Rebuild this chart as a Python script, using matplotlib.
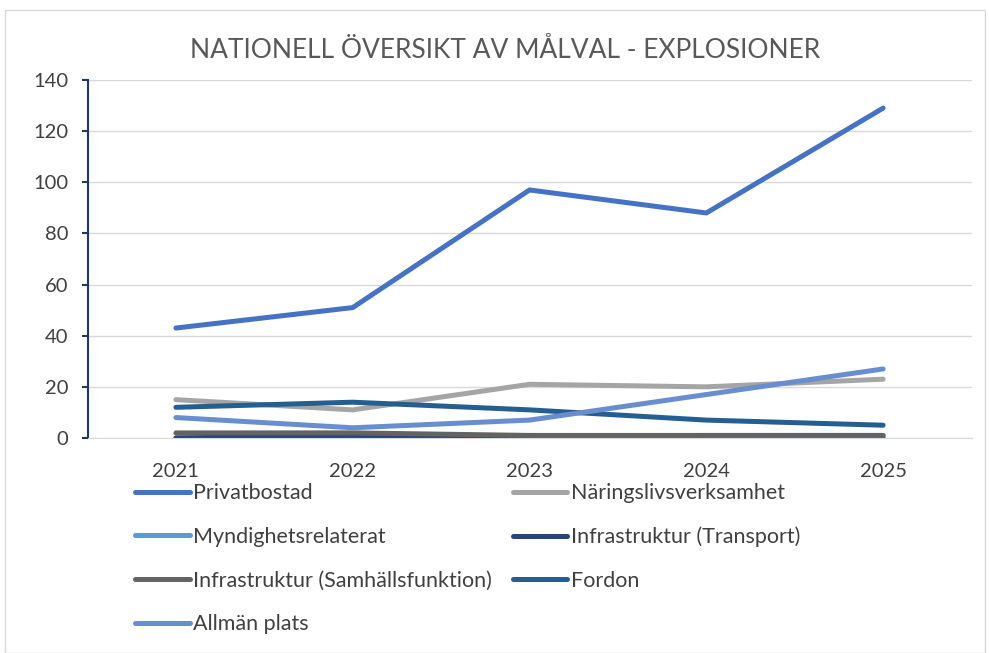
import matplotlib
matplotlib.use("Agg")
import matplotlib.pyplot as plt
from matplotlib.patches import Rectangle

plt.rcParams['font.family'] = ['Lato', 'DejaVu Sans']

years = ['2021', '2022', '2023', '2024', '2025']
series_names = ['Privatbostad', 'Näringslivsverksamhet', 'Myndighetsrelaterat',
                'Infrastruktur (Transport)', 'Infrastruktur (Samhällsfunktion)',
                'Fordon', 'Allmän plats']
privatbostad = [43, 51, 97, 88, 129]
naringsliv = [15, 11, 21, 20, 23]
myndighet = [0, 1, 0, 1, 1]
transport = [0, 1, 0, 0, 0]
samhall = [2, 2, 1, 1, 1]
fordon = [12, 14, 11, 7, 5]
allman = [8, 4, 7, 17, 27]
colors = ['#4472C4', '#A5A5A5', '#5B9BD5', '#264478', '#636363', '#255E91', '#698ED0']

values = [privatbostad, naringsliv, myndighet, transport, samhall, fordon, allman]

fig = plt.figure(figsize=(9.89, 6.53), dpi=100)
ax = fig.add_axes([87.5/989, 1-438/653, 884/989, 358/653])

x = range(len(years))
lines = []
for name, v, c in zip(series_names, values, colors):
    l, = ax.plot(x, v, color=c, lw=3.6, solid_capstyle='round', label=name)
    lines.append(l)

ax.set_xlim(-0.5, 4.5)
ax.set_ylim(0, 140)
ax.set_yticks(range(0, 141, 20))
ax.set_xticks(list(x))
ax.set_xticklabels(years)
ax.grid(axis='y', color='#D9D9D9', lw=1)
ax.set_axisbelow(True)
for s in ['top', 'right']:
    ax.spines[s].set_visible(False)
ax.spines['left'].set_color('#1F3864')
ax.spines['left'].set_linewidth(1.5)
ax.spines['bottom'].set_color('#D9D9D9')
ax.tick_params(axis='y', colors='#1F3864', length=4, width=1.5, labelsize=14.5, labelcolor='#404040', pad=10)
ax.tick_params(axis='x', length=0, labelsize=14.5, labelcolor='#404040', pad=18)

fig.text(505/989, 1-50/653, 'NATIONELL ÖVERSIKT AV MÅLVAL - EXPLOSIONER',
         ha='center', va='center', fontsize=19, color='#595959')

order = [0, 2, 4, 6, 1, 3, 5]
fig.legend([lines[i] for i in order], [series_names[i] for i in order],
           ncol=2, loc='upper left', bbox_to_anchor=(120/989, 1-468/653),
           frameon=False, fontsize=15.5, handlelength=2.55, handletextpad=0.15,
           columnspacing=0.95, labelspacing=1.1, borderpad=0.2, labelcolor='#404040')

fig.patches.append(Rectangle((5/989, 0), 980/989, 1-10/653, transform=fig.transFigure,
                             fill=False, edgecolor='#D9D9D9', lw=1))

fig.savefig('out.png', dpi=100)
